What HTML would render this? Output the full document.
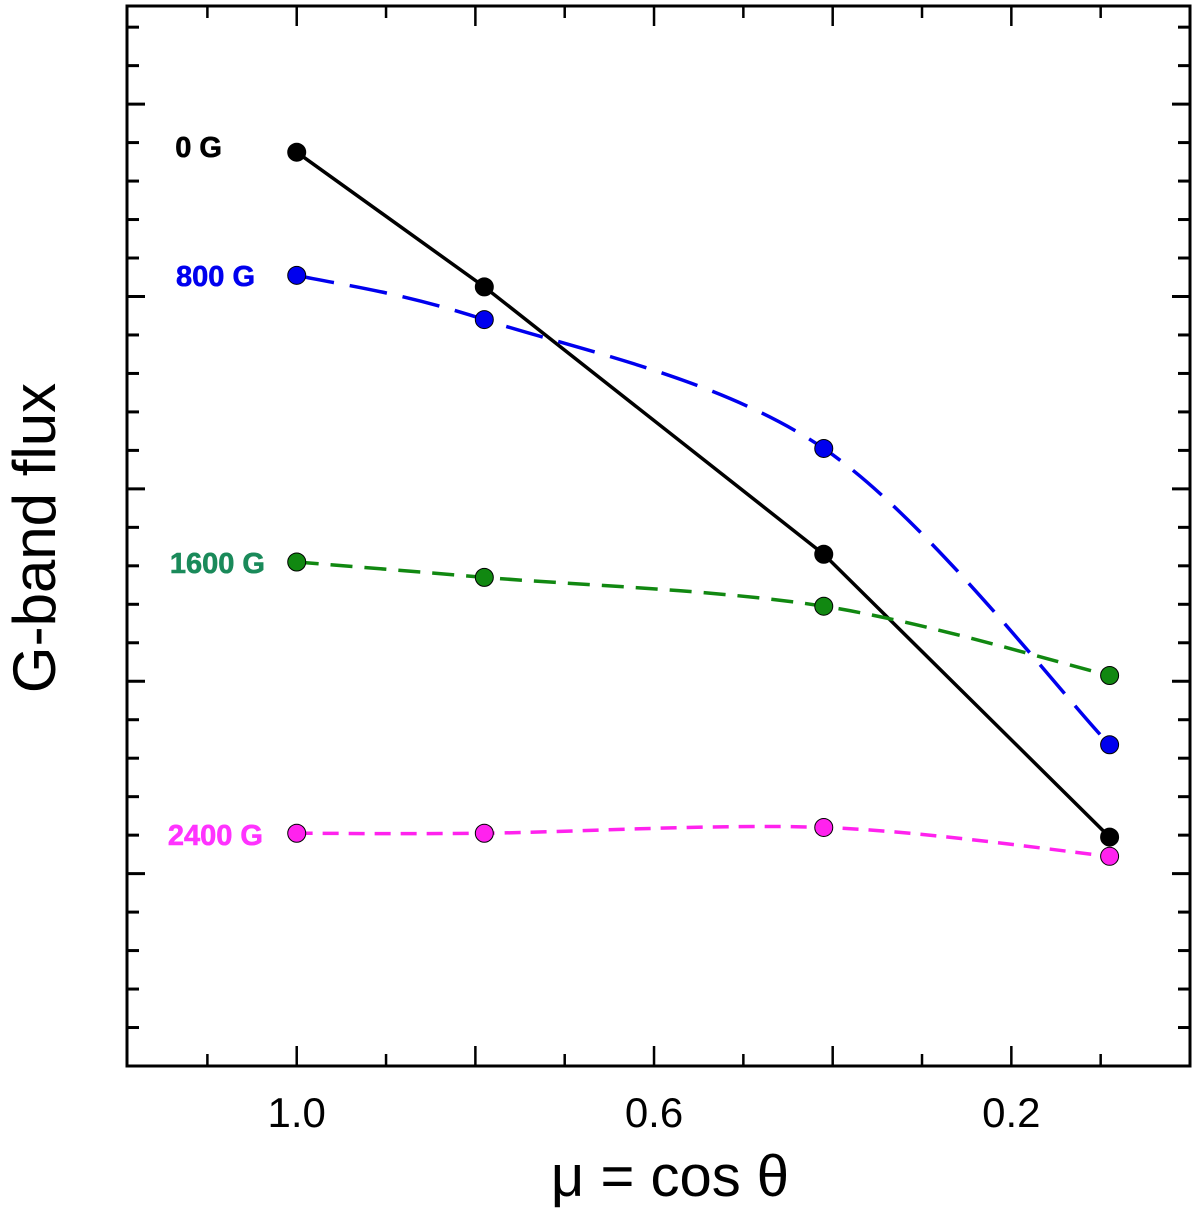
<!DOCTYPE html>
<html><head><meta charset="utf-8"><style>
body{margin:0;background:#fff;}
svg text{font-family:"Liberation Sans",Arial,sans-serif;}
</style></head><body>
<svg id="chart" width="1200" height="1218" viewBox="0 0 1200 1218" xmlns="http://www.w3.org/2000/svg">
<g id="ticks"></g>
<g id="series"></g>
<rect x="127" y="6" width="1063" height="1060" fill="none" stroke="#000" stroke-width="3"/>
<g id="xlabels"></g>
<text x="670" y="1196" font-size="58" text-anchor="middle">μ = cos θ</text>
<text transform="translate(55,538) rotate(-90)" font-size="60" text-anchor="middle">G-band flux</text>
<text x="222" y="157" font-size="29" font-weight="bold" fill="#000" stroke="#000" stroke-width="0.6" text-anchor="end">0 G</text>
<text x="255" y="286" font-size="29" font-weight="bold" fill="#0000ee" stroke="#0000ee" stroke-width="0.6" text-anchor="end">800 G</text>
<text x="265" y="573" font-size="29" font-weight="bold" fill="#1a8a5a" stroke="#1a8a5a" stroke-width="0.6" text-anchor="end">1600 G</text>
<text x="263" y="845" font-size="29" font-weight="bold" fill="#ff33ff" stroke="#ff33ff" stroke-width="0.6" text-anchor="end">2400 G</text>
</svg>
<script>
const mu = [1.0, 0.79, 0.41, 0.09];
const flux0 = [4.75, 4.05, 2.66, 1.19];
const flux800 = [4.11, 3.88, 3.21, 1.67];
const flux1600 = [2.62, 2.54, 2.39, 2.03];
const flux2400 = [1.21, 1.21, 1.24, 1.09];
const xTickLabels = ["1.0", "0.6", "0.2"];
const xTickValues = [1.0, 0.6, 0.2];

const NS = "http://www.w3.org/2000/svg";
const L = 127, R = 1190, T = 6, B = 1066;
const xMin = 1.19, xMax = 0.0, yMin = 0, yMax = 5.51;
const xs = v => L + (xMin - v) / (xMin - xMax) * (R - L);
const ys = v => B - (v - yMin) / (yMax - yMin) * (B - T);

function mk(tag, attrs, parent) {
  const e = document.createElementNS(NS, tag);
  for (const k in attrs) e.setAttribute(k, attrs[k]);
  parent.appendChild(e);
  return e;
}
const ticks = document.getElementById('ticks');
for (let i = 1; i <= 11; i++) {
  const v = i / 10, x = xs(v), len = (i % 2 === 0) ? 20 : 12;
  const a = mk('line', {x1: x, x2: x, y1: B, y2: B - len, stroke: '#000', 'stroke-width': 2.5}, ticks);
  
  
  const b = mk('line', {x1: x, x2: x, y1: T, y2: T + len, stroke: '#000', 'stroke-width': 2.5}, ticks);
  
  
}
for (let i = 1; i <= 27; i++) {
  const v = i * 0.2, y = ys(v), len = (i % 5 === 0) ? 18 : 12;
  const a = mk('line', {x1: L, x2: L + len, y1: y, y2: y, stroke: '#000', 'stroke-width': 3}, ticks);
  
  
  const b = mk('line', {x1: R, x2: R - len, y1: y, y2: y, stroke: '#000', 'stroke-width': 3}, ticks);
  
  
}
const xl = document.getElementById('xlabels');
xTickValues.forEach((v, i) => {
  const t = mk('text', {x: xs(v), y: 1127, 'font-size': 42, 'text-anchor': 'middle'}, xl);
  t.textContent = xTickLabels[i];
  
  
});

function smoothPath(pts) {
  let d = `M${pts[0][0]},${pts[0][1]}`;
  for (let i = 0; i < pts.length - 1; i++) {
    const p0 = pts[i - 1] || pts[i], p1 = pts[i], p2 = pts[i + 1], p3 = pts[i + 2] || p2;
    const c1 = [p1[0] + (p2[0] - p0[0]) / 6, p1[1] + (p2[1] - p0[1]) / 6];
    const c2 = [p2[0] - (p3[0] - p1[0]) / 6, p2[1] - (p3[1] - p1[1]) / 6];
    d += ` C${c1[0]},${c1[1]} ${c2[0]},${c2[1]} ${p2[0]},${p2[1]}`;
  }
  return d;
}
const sg = document.getElementById('series');
const seriesList = [
  {name: '0g', vals: flux0, color: '#000', dash: '', smooth: false},
  {name: '800g', vals: flux800, color: '#0000ee', dash: '38,16', smooth: true},
  {name: '1600g', vals: flux1600, color: '#118811', dash: '22,12', smooth: true},
  {name: '2400g', vals: flux2400, color: '#ff22ee', dash: '16,10', smooth: true}
];
seriesList.forEach(s => {
  const pts = mu.map((m, i) => [xs(m), ys(s.vals[i])]);
  const d = s.smooth ? smoothPath(pts) : 'M' + pts.map(p => p.join(',')).join(' L');
  const p = mk('path', {d: d, fill: 'none', stroke: s.color, 'stroke-width': 3.5, 'stroke-dasharray': s.dash}, sg);
  
  
});
seriesList.forEach(s => {
  mu.forEach((m, i) => {
    const c = mk('circle', {cx: xs(m), cy: ys(s.vals[i]), r: 9, fill: s.color, stroke: '#000', 'stroke-width': 1}, sg);
    
    
  });
});
</script>
</body></html>
